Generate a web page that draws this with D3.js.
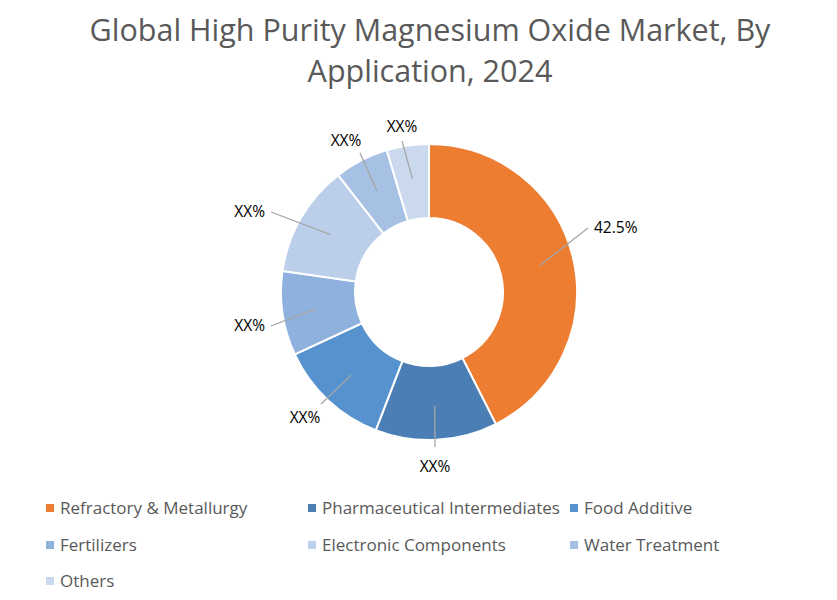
<!DOCTYPE html>
<html><head><meta charset="utf-8">
<script src="https://cdn.jsdelivr.net/npm/d3@7"></script>
<style>body{margin:0;background:#fff;font-family:"Open Sans",sans-serif}</style>
</head><body>
<svg id="chart" width="837" height="600"></svg>
<script>
var categories=["Refractory & Metallurgy","Pharmaceutical Intermediates","Food Additive","Fertilizers","Electronic Components","Water Treatment","Others"];
var values=[42.5,13.3,12.2,9.2,12.2,5.9,4.6];
var labels=["42.5%","XX%","XX%","XX%","XX%","XX%","XX%"];
var colors=["#ED7D31","#4A7EB5","#5592CE","#8EB1DD","#BBCFEB","#A7C1E5","#CBD9EF"];
// label positions (text anchor point) and leader end
var labelPos=[[608,228],[435,467],[303,418],[249,326],[249,212],[346,141],[402,127]];

var svg=d3.select("#chart");
svg.append("text").attr("x",430).attr("y",41).attr("text-anchor","middle")
 .attr("font-size",30.5).attr("fill","#595959").text("Global High Purity Magnesium Oxide Market, By");
svg.append("text").attr("x",430).attr("y",82).attr("text-anchor","middle")
 .attr("font-size",30.5).attr("fill","#595959").text("Application, 2024");

var cx=429,cy=292,ro=148,ri=74;
var g=svg.append("g").attr("transform","translate("+cx+","+cy+")");
var pie=d3.pie().sort(null).value(function(d){return d;});
var arcs=pie(values);
var arc=d3.arc().innerRadius(ri).outerRadius(ro);
g.selectAll("path").data(arcs).enter().append("path")
 .attr("d",arc).attr("fill",function(d,i){return colors[i];})
 .attr("stroke","#fff").attr("stroke-width",2);

var mid=d3.arc().innerRadius(ri+40).outerRadius(ri+40);
arcs.forEach(function(d,i){
  var c=mid.centroid(d);
  var p=labelPos[i];
  var tx=p[0]-cx,ty=p[1]-cy;
  var ex=tx,ey=ty;
  if(i==0){ex=tx-20;}
  else if(i==1){ey=ty-20;}
  else if(i==2){ex=tx+18;ey=ty-14;}
  else if(i==3||i==4){ex=tx+22;}
  else if(i==5){ex=tx+14;ey=ty+12;}
  else {ey=ty+14;}
  g.append("line").attr("x1",c[0]).attr("y1",c[1]).attr("x2",ex).attr("y2",ey)
   .attr("stroke","#A6A6A6").attr("stroke-width",1.3);
  var anchor=i==0?"start":"middle";
  if(i==3||i==4) anchor="end";
  var lx=i==0?tx-14:(i==3||i==4?tx+16:tx);
  if(i==2) lx=tx+2;
  g.append("text").attr("x",lx).attr("y",ty+5).attr("text-anchor",anchor)
   .attr("font-size",15.5).attr("fill","#000").text(labels[i]);
});

var legX=[46,308,570],legY=[515,552,588];
categories.forEach(function(c,i){
  var x=legX[i%3],y=legY[Math.floor(i/3)];
  svg.append("rect").attr("x",x).attr("y",y-11).attr("width",8).attr("height",8).attr("fill",colors[i]);
  svg.append("text").attr("x",x+14).attr("y",y-1).attr("font-size",17).attr("fill","#595959").text(c);
});
</script>
</body></html>
